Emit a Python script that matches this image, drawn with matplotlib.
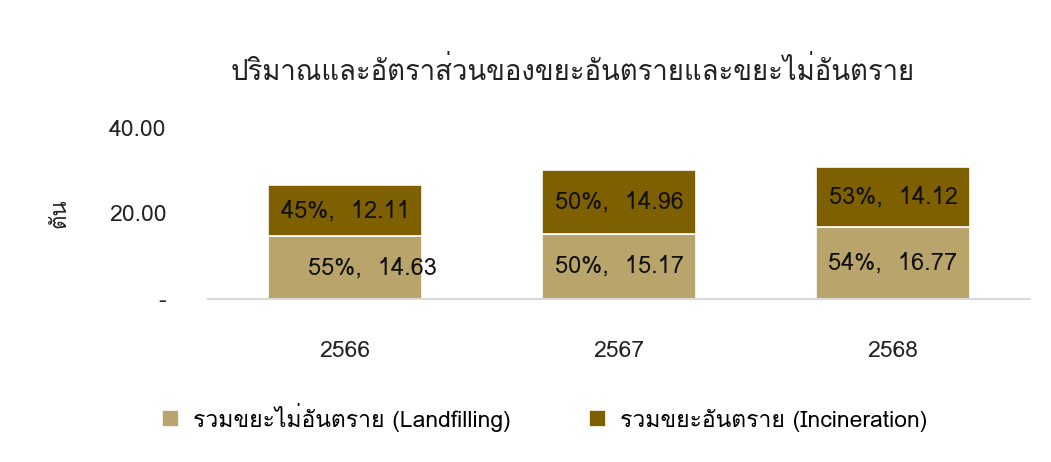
import matplotlib
matplotlib.use("Agg")
import matplotlib.pyplot as plt
from matplotlib import font_manager
from matplotlib.ticker import FixedLocator, FixedFormatter

# find an installed family that can draw Thai
thai_family = None
for f in font_manager.fontManager.ttflist:
    if "Thai" in f.name or f.name in ("Loma", "Garuda", "Sarabun", "Tahoma", "Leelawadee"):
        thai_family = f.name
        break
families = ([thai_family] if thai_family else []) + ["DejaVu Sans"]
plt.rcParams["font.family"] = families

years = ["2566", "2567", "2568"]
landfill = [14.63, 15.17, 16.77]
incineration = [12.11, 14.96, 14.12]
landfill_pct = ["55%", "50%", "54%"]
incin_pct = ["45%", "50%", "53%"]

C_LAND = "#B9A56B"
C_INC = "#7F6000"
TXT = "#222222"

fig = plt.figure(figsize=(10.51, 4.62), dpi=100)
ax = fig.add_axes([0.198, 0.353, 0.782, 0.370])

x = range(len(years))
b1 = ax.bar(x, landfill, width=0.56, color=C_LAND, edgecolor="white", linewidth=1.2)
b2 = ax.bar(x, incineration, bottom=landfill, width=0.56, color=C_INC,
            edgecolor="white", linewidth=1.2)

# first lower label sits a bit right of centre in the original
lower_dx = [0.1, 0.0, 0.0]
for i in x:
    ax.text(i + lower_dx[i], landfill[i] / 2, f"{landfill_pct[i]},  {landfill[i]:.2f}",
            ha="center", va="center", fontsize=17, color="#111111")
    ax.text(i, landfill[i] + incineration[i] / 2, f"{incin_pct[i]},  {incineration[i]:.2f}",
            ha="center", va="center", fontsize=17, color="#111111")

ax.set_xlim(-0.5, 2.5)
ax.set_ylim(0, 40)
ax.yaxis.set_major_locator(FixedLocator([0, 20, 40]))
ax.yaxis.set_major_formatter(FixedFormatter(["-", "20.00", "40.00"]))
ax.set_xticks(list(x))
ax.set_xticklabels(years)
ax.tick_params(axis="y", length=0, pad=30, labelsize=16.5, labelcolor=TXT)
ax.tick_params(axis="x", length=0, pad=30, labelsize=16.5, labelcolor=TXT)
for s in ("top", "right", "left"):
    ax.spines[s].set_visible(False)
ax.spines["bottom"].set_color("#D9D9D9")
ax.spines["bottom"].set_linewidth(1.5)
ax.set_ylabel("ตัน", fontsize=16, labelpad=28, color=TXT)

fig.text(0.545, 0.845, "ปริมาณและอัตราส่วนของขยะอันตรายและขยะไม่อันตราย",
         ha="center", va="center", fontsize=19.8, color=TXT)

fig.legend([b1, b2], ["รวมขยะไม่อันตราย (Landfilling)", "รวมขยะอันตราย (Incineration)"],
           loc="center", bbox_to_anchor=(0.518, 0.097), ncol=2, frameon=False,
           fontsize=16.5, handlelength=0.75, handleheight=0.75, columnspacing=3.4,
           handletextpad=0.6)

fig.savefig("out.png", dpi=100)
